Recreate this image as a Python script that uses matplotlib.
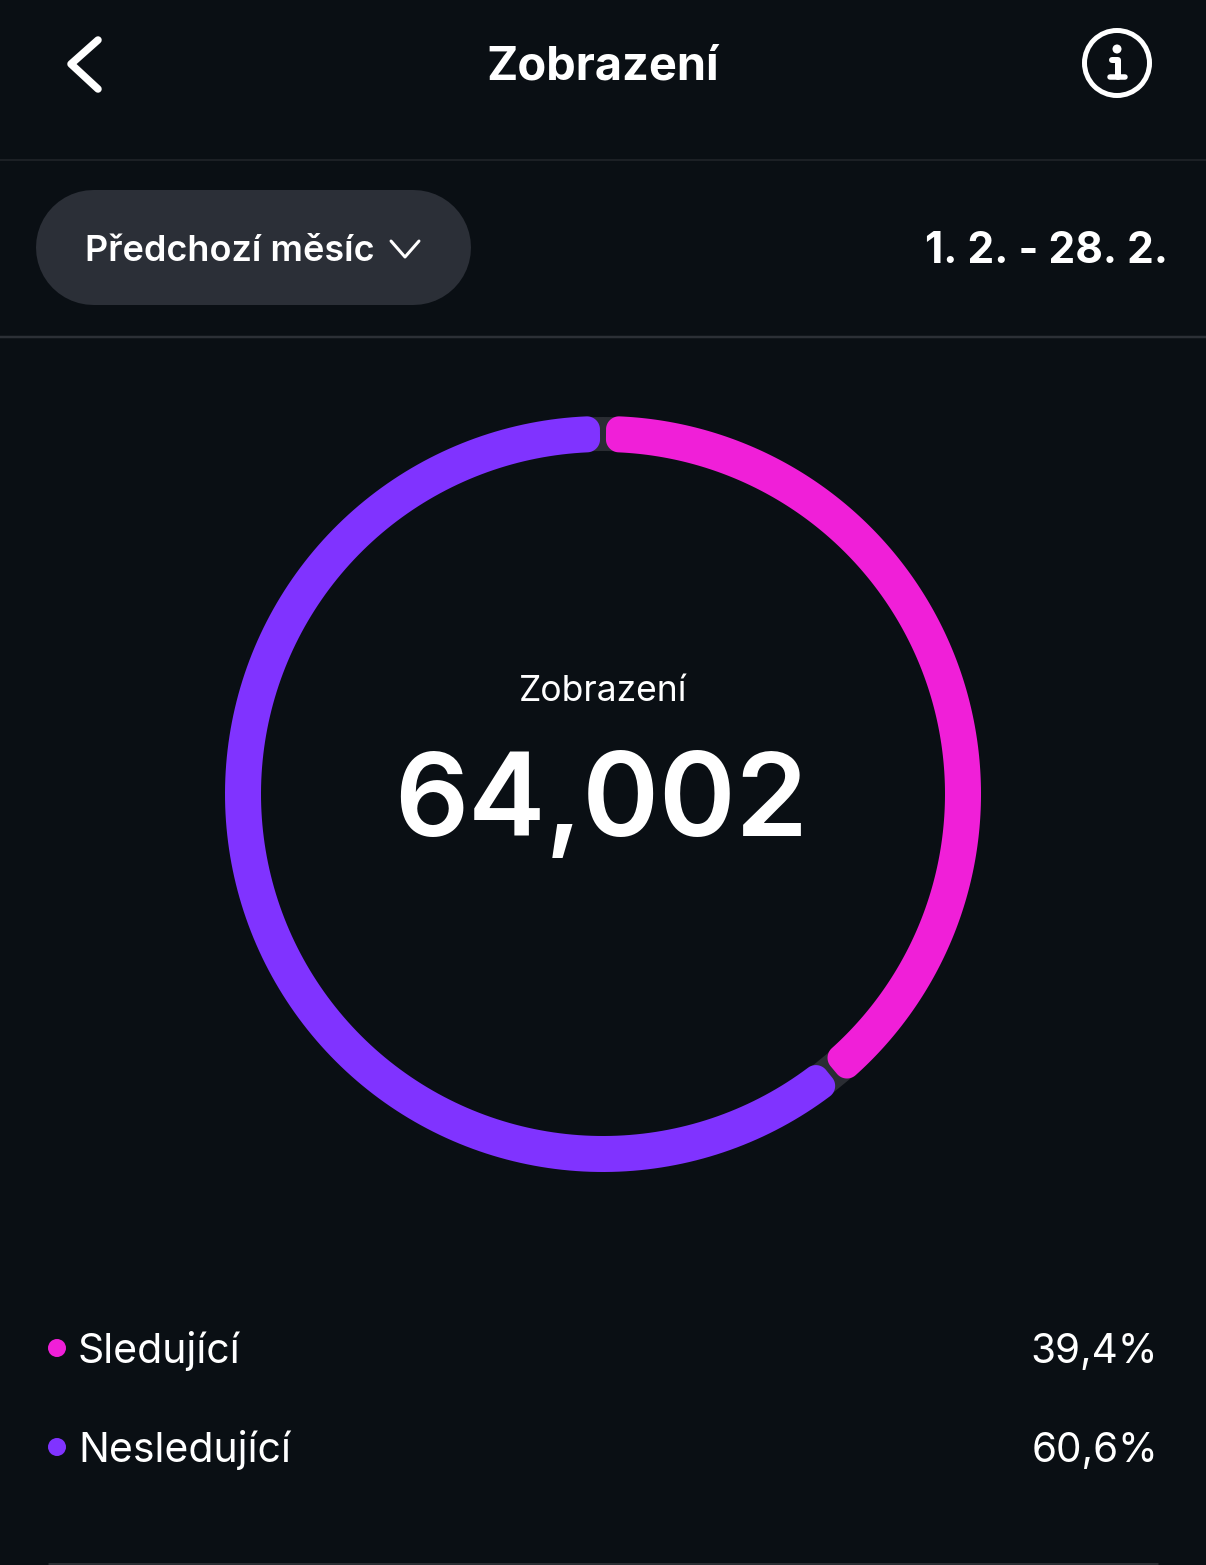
import numpy as np
import matplotlib
matplotlib.use("Agg")
import matplotlib.pyplot as plt
from matplotlib.patches import Polygon, Circle, Wedge

# Data
categories = ["Sledující", "Nesledující"]
percent_labels = ["39,4%", "60,6%"]
arc_shares = [39.05, 60.95]   # shares as drawn in the ring
series_colors = ["#F01FD8", "#8033FF"]
total_label = "64,002"
title = "Zobrazení"
period_button = "Předchozí měsíc"
period_range = "1. 2. - 28. 2."

BG = "#0A0F14"
FONT = ["Inter", "DejaVu Sans"]
W, H = 1206, 1565
fig = plt.figure(figsize=(W / 100, H / 100), dpi=100, facecolor=BG)
ax = fig.add_axes([0, 0, 1, 1])
ax.set_xlim(0, W)
ax.set_ylim(H, 0)
ax.axis("off")
ax.set_facecolor(BG)

px = 72 / 100  # pixels to points


def txt(x, y, s, size, weight="normal", ha="center", color="white"):
    return ax.text(x, y, s, fontsize=size * px, fontweight=weight, ha=ha, va="center_baseline",
                   color=color, family=FONT)


# ring
cx, cy, Ro, Ri = 603, 794, 378, 342


def pol(r, a):  # a: degrees clockwise from top
    t = np.radians(a)
    return np.column_stack([cx + r * np.sin(t), cy - r * np.cos(t)])


def segment(a0, a1, gap=3.0, cr=13):
    g0 = np.degrees(gap / 360)
    a0, a1 = a0 + g0, a1 - g0
    d_o, d_i = np.degrees(cr / (Ro - cr)), np.degrees(cr / (Ri + cr))
    pts = []
    pts.append(pol(Ro, np.linspace(a0 + d_o, a1 - d_o, 200)))

    def corner(r_c, a_c, s, e):
        c = pol(r_c, np.array([a_c]))[0]
        t = np.radians(np.linspace(s, e, 16))
        return np.column_stack([c[0] + cr * np.sin(t), c[1] - cr * np.cos(t)])

    pts.append(corner(Ro - cr, a1 - d_o, a1 - d_o, a1 - d_o + 90))
    pts.append(corner(Ri + cr, a1 - d_i, a1 - d_i + 90, a1 - d_i + 180))
    pts.append(pol(Ri, np.linspace(a1 - d_i, a0 + d_i, 200)))
    pts.append(corner(Ri + cr, a0 + d_i, a0 + d_i + 180, a0 + d_i + 270))
    pts.append(corner(Ro - cr, a0 + d_o, a0 + d_o + 270, a0 + d_o + 360))
    return np.vstack(pts)


# dark track visible in the gaps
ax.add_patch(Wedge((cx, cy), Ro - 1, 0, 360, width=Ro - Ri - 2, facecolor="#2A2D33", edgecolor="none", zorder=1))
start = 0.0
for share, col in zip(arc_shares, series_colors):
    end = start + share / sum(arc_shares) * 360
    ax.add_patch(Polygon(segment(start, end), closed=True, facecolor=col, edgecolor="none", zorder=2))
    start = end

# header
txt(603, 63, title, 47, "bold")
ax.plot([98, 71, 98], [40, 64, 89], color="white", lw=7.5 * px, solid_capstyle="round",
        solid_joinstyle="round")
ax.add_patch(Circle((1117, 63), 32.5, facecolor="none", edgecolor="white", lw=5 * px))
ax.add_patch(Circle((1117, 49), 4.5, facecolor="white", edgecolor="none"))
ax.plot([1112, 1118, 1118], [60, 60, 77], color="white", lw=6 * px, solid_capstyle="round",
        solid_joinstyle="round")
ax.plot([1110, 1125], [77, 77], color="white", lw=5.5 * px, solid_capstyle="round")

# separators
ax.plot([0, W], [159.5, 159.5], color="#22262B", lw=1.5 * px)
ax.plot([0, W], [336.5, 336.5], color="#2C3036", lw=2.5 * px)
ax.plot([48, 1158], [1563.5, 1563.5], color="#2A2E33", lw=3 * px, solid_capstyle="butt")

# period selector
ax.plot([92.5, 412.5], [246.5, 246.5], color="#2B2F37", lw=115 * px, solid_capstyle="round")
txt(85, 248, period_button, 36, "semibold", ha="left")
ax.plot([391, 405, 419], [241, 257, 241], color="white", lw=3 * px, solid_capstyle="round",
        solid_joinstyle="round")
txt(1168, 247, period_range, 42.5, "bold", ha="right")

# centre
txt(603, 688, title, 35.5)
txt(601, 794, total_label, 116, "semibold")

# legend
ys = [1347, 1446]
for y, cat, pct, col in zip(ys, categories, percent_labels, series_colors):
    ax.add_patch(Circle((57, y + 1), 9, facecolor=col, edgecolor="none"))
    txt(78, y, cat, 41, ha="left")
    txt(1158, y + 1, pct, 40.5, ha="right")

fig.savefig("out.png", dpi=100, facecolor=BG)
